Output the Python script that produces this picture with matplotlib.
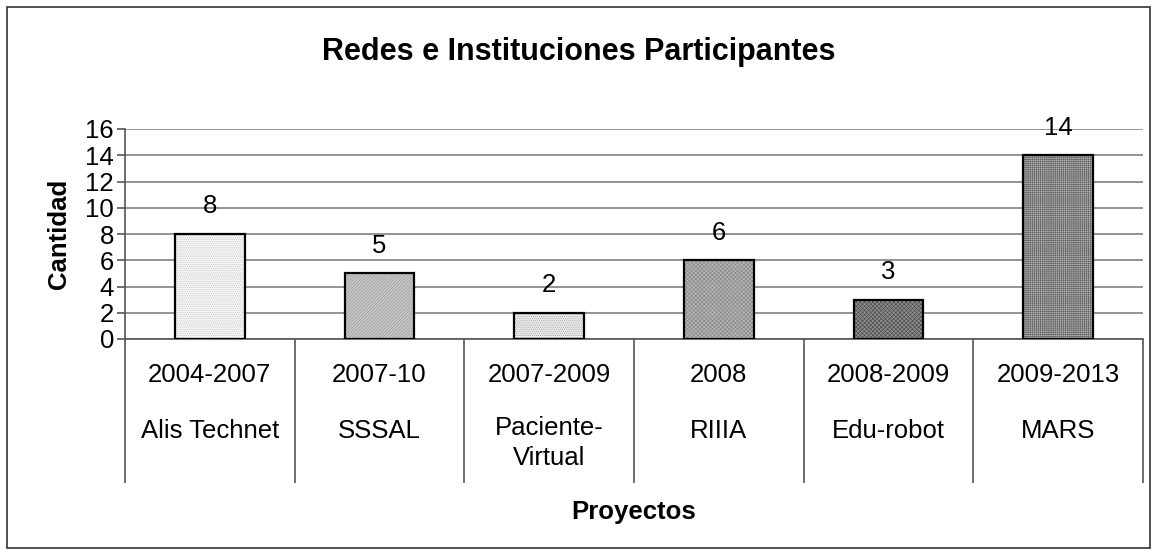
import numpy as np
import matplotlib
matplotlib.use("Agg")
import matplotlib.pyplot as plt
from matplotlib.patches import Rectangle

# Values
years = ["2004-2007", "2007-10", "2007-2009", "2008", "2008-2009", "2009-2013"]
projects = ["Alis Technet", "SSSAL", "Paciente-\nVirtual", "RIIIA", "Edu-robot", "MARS"]
counts = [8, 5, 2, 6, 3, 14]
y_ticks = [0, 2, 4, 6, 8, 10, 12, 14, 16]

# Excel-like fill patterns approximated with face colour + fine hatch
faces = ["#f6f6f6", "#c8c8c8", "#f0f0f0", "#b4b4b4", "#8e8e8e", "#b8b8b8"]
hatches = ["........", "//////////", "........", "xxxxxxxx", "xxxxxxxx", "++++++++"]
hatch_cols = ["#c8c8c8", "#9a9a9a", "#9a9a9a", "#8a8a8a", "#505050", "#6a6a6a"]

plt.rcParams.update({
    "font.family": ["Liberation Sans", "DejaVu Sans"],
    "font.size": 18,
    "hatch.linewidth": 0.5,
})

W, H = 1157, 555
fig = plt.figure(figsize=(W / 100, H / 100), dpi=100)
ax = fig.add_axes([125 / W, 1 - 339 / H, (1143 - 125) / W, (339 - 129) / H])

x = np.arange(len(counts))
bars = ax.bar(x, counts, width=0.41, color=faces, edgecolor="black", linewidth=1.6, zorder=3)
for b, h, hc in zip(bars, hatches, hatch_cols):
    b.set_hatch(h)
    b._hatch_color = matplotlib.colors.to_rgba(hc)

for xi, v in zip(x, counts):
    ax.text(xi, v + 2.1, str(v), ha="center", va="center", fontsize=18.5, zorder=4)

ax.set_xlim(-0.5, len(counts) - 0.5)
ax.set_ylim(0, 16)
ax.set_yticks(y_ticks)
ax.yaxis.grid(True, color="#808080", linewidth=1.2, zorder=0)
ax.set_axisbelow(True)
ax.set_xticks([])
for s in ["top", "right"]:
    ax.spines[s].set_visible(False)
for s in ["left", "bottom"]:
    ax.spines[s].set_color("#555555")
    ax.spines[s].set_linewidth(1.2)
ax.tick_params(axis="y", length=6, width=1.2, color="#555555", pad=2, labelsize=18.5)

# category table below the axis
trans = ax.get_xaxis_transform()
bounds = np.arange(len(counts) + 1) - 0.5
ax.vlines(bounds, 0, -(483 - 339) / 210, transform=trans, colors="#555555",
          linewidth=1.2, clip_on=False)
for xi, yr, pr in zip(x, years, projects):
    ax.text(xi, -(375 - 339) / 210, yr, transform=trans, ha="center", va="center", fontsize=18.5)
    if "\n" in pr:
        ax.text(xi, -(416 - 339) / 210, pr, transform=trans, ha="center", va="top",
                fontsize=18.5, linespacing=1.3)
    else:
        ax.text(xi, -(431 - 339) / 210, pr, transform=trans, ha="center", va="center", fontsize=18.5)

ax.text(2.5, -(512 - 339) / 210, "Proyectos", transform=trans, ha="center", va="center",
        fontsize=18.5, fontweight="bold")
ax.set_ylabel("Cantidad", fontsize=18.5, fontweight="bold", labelpad=10)

fig.text(0.5, 1 - 52 / H, "Redes e Instituciones Participantes", ha="center", va="center",
         fontsize=22, fontweight="bold")

fig.patches.append(Rectangle((7 / W, 7 / H), (1150 - 7) / W, (548 - 7) / H, transform=fig.transFigure,
                             fill=False, edgecolor="#333333", linewidth=1.2))

fig.savefig("out.png", dpi=100)
